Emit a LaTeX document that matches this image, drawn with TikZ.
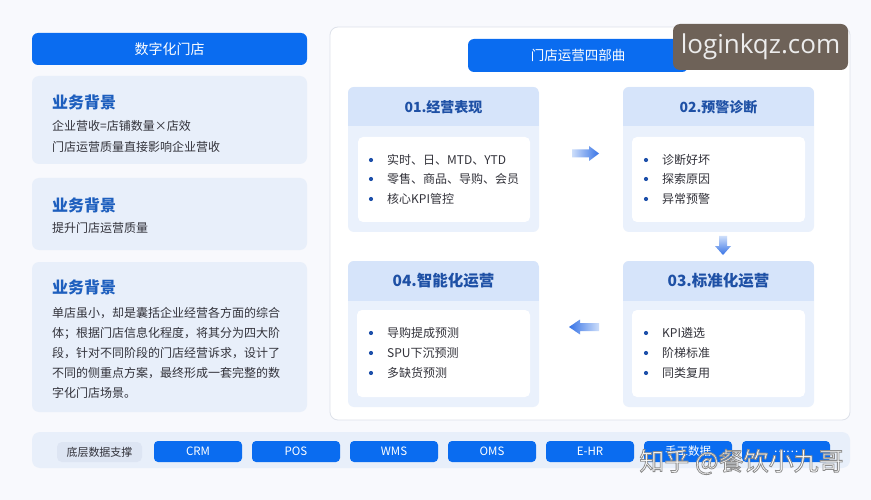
\documentclass[tikz,border=0pt]{standalone}
\usepackage{fontspec}
\setmainfont{Noto Sans CJK SC}
\newfontfamily\wmfont{Open Sans}
\definecolor{bg}{RGB}{248,249,253}
\definecolor{btnblue}{RGB}{10,108,240}
\definecolor{panelblue}{RGB}{232,239,250}
\definecolor{cardhead}{RGB}{214,228,250}
\definecolor{cardbody}{RGB}{234,241,252}
\definecolor{titleblue}{RGB}{30,95,190}
\definecolor{cardtitle}{RGB}{30,80,165}
\definecolor{bodytext}{RGB}{50,50,58}
\definecolor{dotblue}{RGB}{30,80,170}
\definecolor{panelborder}{RGB}{222,226,234}
\definecolor{pill}{RGB}{221,229,243}
\definecolor{wmbox}{RGB}{110,98,88}
\definecolor{wmtext}{RGB}{236,236,236}
\definecolor{arrowlight}{RGB}{205,222,250}
\definecolor{arrowdark}{RGB}{55,115,230}
\tikzset{
  box/.style={anchor=north west, inner sep=0pt, outer sep=0pt},
  bluebtn/.style={box, fill=btnblue, rounded corners=6pt},
  lpanel/.style={box, fill=panelblue, rounded corners=7pt},
  whitebox/.style={box, fill=white, rounded corners=5pt},
  ttl/.style={anchor=west, inner sep=0pt, text=titleblue, font=\fontsize{16}{18}\selectfont\bfseries},
  body/.style={anchor=west, inner sep=0pt, text=bodytext, font=\fontsize{12}{14}\selectfont},
  ctitle/.style={inner sep=0pt, text=cardtitle, font=\fontsize{14}{16}\selectfont\bfseries},
  ctitlebig/.style={inner sep=0pt, text=cardtitle, font=\fontsize{15.5}{17}\selectfont\bfseries},
  blt/.style={anchor=west, inner sep=0pt, text=bodytext, font=\fontsize{12}{14}\selectfont},
  dbtn/.style={box, fill=btnblue, rounded corners=4pt, minimum width=88pt, minimum height=21pt, text=white, font=\fontsize{11.5}{13}\selectfont},
}
\begin{document}
\begin{tikzpicture}[x=1pt,y=-1pt]
\useasboundingbox (0,0) rectangle (871,500);
\fill[bg] (0,0) rectangle (871,500);

% ---------- left column ----------
\node[bluebtn, minimum width=275pt, minimum height=32pt] (hdr) at (32,33) {};
\node[text=white, font=\fontsize{14}{16}\selectfont] at (hdr.center) {数字化门店};

\node[lpanel, minimum width=275pt, minimum height=88pt] (bg1) at (32,76) {};
\node[ttl] (bg1t) at (52,102) {业务背景};
\node[body] (bg1a) at (52,126) {企业营收=店铺数量×店效};
\node[body] (bg1b) at (52,147) {门店运营质量直接影响企业营收};

\node[lpanel, minimum width=275pt, minimum height=72pt] (bg2) at (32,178) {};
\node[ttl] (bg2t) at (52,205) {业务背景};
\node[body] (bg2a) at (52,228) {提升门店运营质量};

\node[lpanel, minimum width=275pt, minimum height=150pt] (bg3) at (32,262) {};
\node[ttl] (bg3t) at (52,287) {业务背景};
\node[body] (bg3a) at (52,313) {单店虽小，却是囊括企业经营各方面的综合};
\node[body] (bg3b) at (52,333) {体；根据门店信息化程度，将其分为四大阶};
\node[body] (bg3c) at (52,353) {段，针对不同阶段的门店经营诉求，设计了};
\node[body] (bg3d) at (52,373) {不同的侧重点方案，最终形成一套完整的数};
\node[body] (bg3e) at (52,393) {字化门店场景。};

% ---------- right panel ----------
\node[box, fill=white, draw=panelborder, line width=0.8pt, rounded corners=8pt, minimum width=520pt, minimum height=393pt] (rp) at (330,27) {};
\node[bluebtn, minimum width=220pt, minimum height=33pt] (four) at (468,39) {};
\node[text=white, font=\fontsize{13.5}{15}\selectfont] at (four.center) {门店运营四部曲};

% card 01
\node[box, fill=cardbody, rounded corners=6pt, minimum width=191pt, minimum height=145pt] (c1) at (348,87) {};
\begin{scope}
  \clip[rounded corners=6pt] (348,87) rectangle (539,232);
  \fill[cardhead] (348,87) rectangle (539,126);
\end{scope}
\node[whitebox, minimum width=172pt, minimum height=85pt] (w1) at (358,137) {};
\node[ctitle] at (443.5,107) {01.经营表现};
\foreach \yy/\tt in {160/{实时、日、MTD、YTD},179/{零售、商品、导购、会员},199/{核心KPI管控}}{
  \fill[dotblue] (371,\yy) circle (2.1pt);
  \node[blt] at (387,\yy) {\tt};
}

% card 02
\node[box, fill=cardbody, rounded corners=6pt, minimum width=191pt, minimum height=145pt] (c2) at (623,87) {};
\begin{scope}
  \clip[rounded corners=6pt] (623,87) rectangle (814,232);
  \fill[cardhead] (623,87) rectangle (814,126);
\end{scope}
\node[whitebox, minimum width=173pt, minimum height=85pt] (w2) at (632,137) {};
\node[ctitle] at (718.5,107) {02.预警诊断};
\foreach \yy/\tt in {160/{诊断好坏},179/{探索原因},199/{异常预警}}{
  \fill[dotblue] (646,\yy) circle (2.1pt);
  \node[blt] at (662,\yy) {\tt};
}

% card 04
\node[box, fill=cardbody, rounded corners=6pt, minimum width=191pt, minimum height=146pt] (c4) at (348,261) {};
\begin{scope}
  \clip[rounded corners=6pt] (348,261) rectangle (539,407);
  \fill[cardhead] (348,261) rectangle (539,301);
\end{scope}
\node[whitebox, minimum width=173pt, minimum height=87pt] (w4) at (357,310) {};
\node[ctitlebig] at (443.5,281) {04.智能化运营};
\foreach \yy/\tt in {333/{导购提成预测},353/{SPU下沉预测},373/{多缺货预测}}{
  \fill[dotblue] (371,\yy) circle (2.1pt);
  \node[blt] at (387,\yy) {\tt};
}

% card 03
\node[box, fill=cardbody, rounded corners=6pt, minimum width=191pt, minimum height=146pt] (c3) at (623,261) {};
\begin{scope}
  \clip[rounded corners=6pt] (623,261) rectangle (814,407);
  \fill[cardhead] (623,261) rectangle (814,301);
\end{scope}
\node[whitebox, minimum width=173pt, minimum height=87pt] (w3) at (632,310) {};
\node[ctitlebig] at (718.5,281) {03.标准化运营};
\foreach \yy/\tt in {333/{KPI遴选},353/{阶梯标准},373/{同类复用}}{
  \fill[dotblue] (646,\yy) circle (2.1pt);
  \node[blt] at (662,\yy) {\tt};
}

% arrows
\shade[left color=arrowlight, right color=arrowdark]
  (572,149.5) -- (589,149.5) -- (589,146) -- (599,153.5) -- (589,161) -- (589,157.5) -- (572,157.5) -- cycle;
\shade[top color=arrowlight, bottom color=arrowdark]
  (719,236) -- (727,236) -- (727,246) -- (731,246) -- (723,255) -- (715,246) -- (719,246) -- cycle;
\shade[left color=arrowdark, right color=arrowlight]
  (599,323) -- (580,323) -- (580,319.5) -- (569,327) -- (580,334.5) -- (580,331) -- (599,331) -- cycle;

% ---------- bottom bar ----------
\node[box, fill=panelblue, rounded corners=8pt, minimum width=818pt, minimum height=36pt] (bar) at (32,432) {};
\node[box, fill=pill, rounded corners=5pt, minimum width=85pt, minimum height=20pt] (lbl) at (57,442) {};
\node[text=bodytext, font=\fontsize{11}{13}\selectfont] at (lbl.center) {底层数据支撑};
\foreach \xx/\tt/\nm in {154/CRM/d1,252/POS/d2,350/WMS/d3,448/OMS/d4,546/E-HR/d5,644/手工数据/d6,742/……/d7}{
  \node[dbtn] (\nm) at (\xx,441) {};
  \node[text=white, font=\fontsize{11.5}{13}\selectfont] at (\nm.center) {\tt};
}

% ---------- watermarks ----------
\node[box, fill=wmbox, rounded corners=7pt, minimum width=175pt, minimum height=46pt] (wm) at (673,24) {};
\node[text=wmtext, font=\wmfont\fontsize{26}{28}\selectfont] at (wm.center) {loginkqz.com};
\node[text=white, font=\fontsize{25}{28}\selectfont] (wm2) at (741.5,462)
  {\special{pdf:code q 2 Tr 0.55 0.55 0.55 RG 0.8 w}知乎 @餐饮小九哥\special{pdf:code Q}};
\end{tikzpicture}
\end{document}
